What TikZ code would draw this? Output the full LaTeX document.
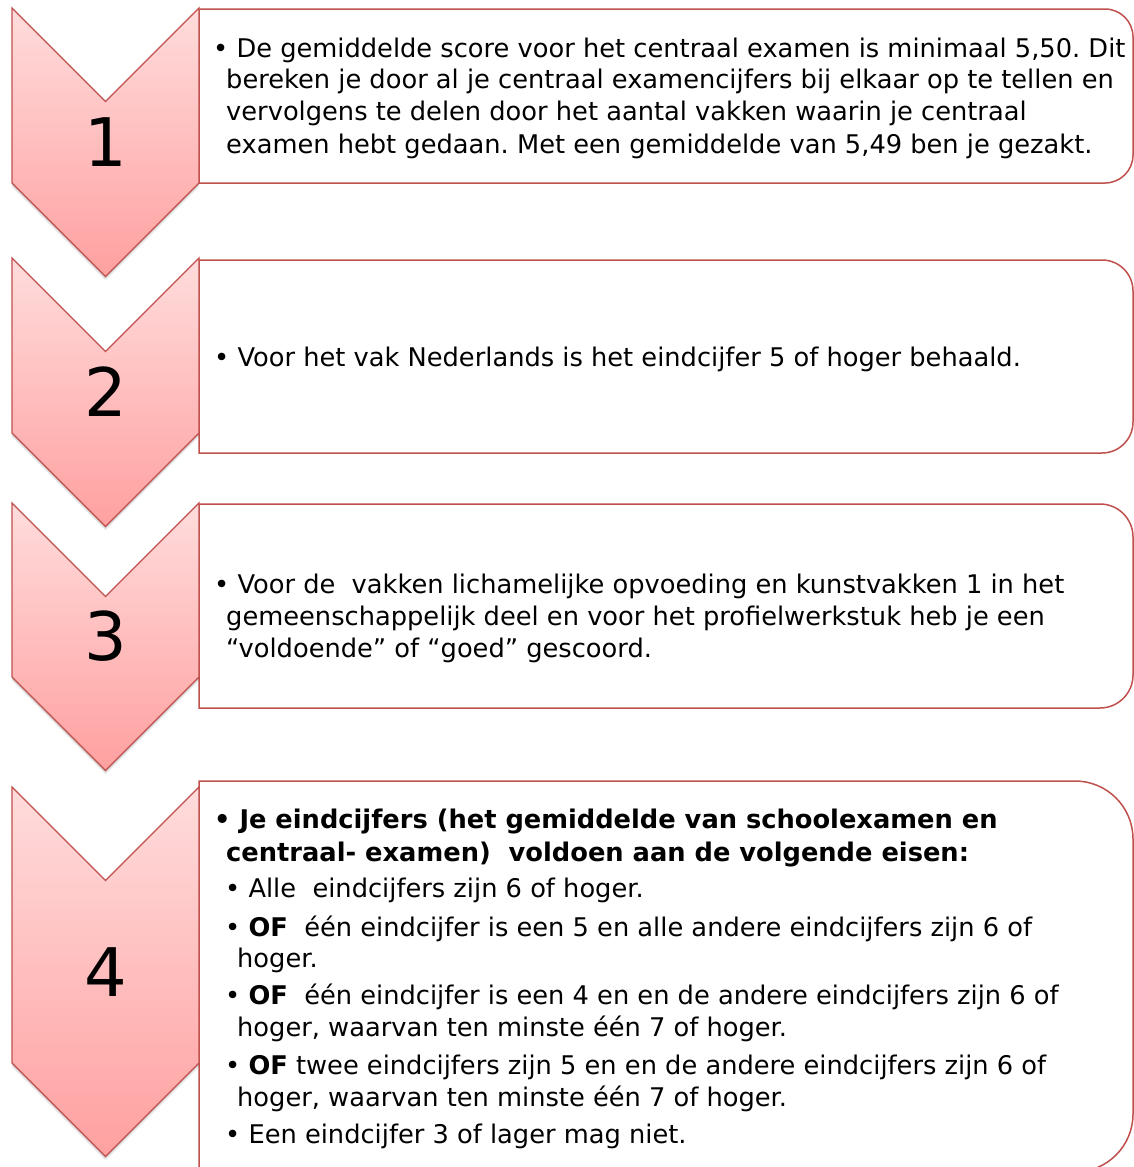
\documentclass[tikz,border=0pt]{standalone}
\usepackage{fontspec}
\setmainfont{DejaVu Sans}
\frenchspacing
\definecolor{edge}{HTML}{C0504D}
\definecolor{chevtop}{HTML}{FFDCDC}
\definecolor{chevbot}{HTML}{FFA0A0}
\tikzset{
  chev/.style={top color=chevtop, bottom color=chevbot, draw=edge, line width=1.3pt, line join=miter},
  chevshadow/.style={fill=black, opacity=0.05},
  txtbox/.style={draw=edge, line width=1.5pt, fill=white},
  numlbl/.style={font=\fontsize{67}{67}\selectfont, anchor=base, inner sep=0pt},
  txtline/.style={font=\fontsize{25.7}{32}\selectfont, anchor=base west, inner sep=0pt},
  boldline/.style={txtline, font=\fontsize{25.7}{32}\selectfont\bfseries},
}
\newcommand\drawtextbox[3]{%
  \draw[txtbox] (199,-#1) -- ({1133-#3},-#1) arc[start angle=90,end angle=0,radius=#3]
    -- (1133,{-#2+#3}) arc[start angle=0,end angle=-90,radius=#3] -- (199,-#2) -- cycle;}
\newcommand\chevpath[2]{(12,-#1) -- (105.5,{-#1-93.5}) -- (199,-#1) -- (199,-#2) -- (105.5,{-#2-93.5}) -- (12,-#2) -- cycle}
\newcommand\drawchevron[2]{%
  \foreach \s in {1,2,3,4}{\fill[chevshadow, yshift=-\s pt] \chevpath{#1}{#2};}
  \shadedraw[chev] \chevpath{#1}{#2};}
\begin{document}
\begin{tikzpicture}[x=1pt,y=1pt]
\useasboundingbox (0,0) rectangle (1134,-1167);
\fill[white] (0,0) rectangle (1134,-1167);

% text boxes
\drawtextbox{9}{183}{28}
\drawtextbox{260}{453}{31}
\drawtextbox{504}{708}{33}
\drawtextbox{781}{1172}{58}

% chevrons
\drawchevron{8}{183}
\drawchevron{258}{433}
\drawchevron{503}{677}
\drawchevron{787}{1063}

% numbers
\node[numlbl] (n1) at (105.5,-166) {1};
\node[numlbl] (n2) at (105.5,-416) {2};
\node[numlbl] (n3) at (105.5,-660) {3};
\node[numlbl] (n4) at (105.5,-996) {4};

% box 1
\node[txtline] (t1a) at (213,-57) {• De gemiddelde score voor het centraal examen is minimaal 5,50. Dit};
\node[txtline] (t1b) at (226,-88) {bereken je door al je centraal examencijfers bij elkaar op te tellen en};
\node[txtline] (t1c) at (226,-120) {vervolgens te delen door het aantal vakken waarin je centraal};
\node[txtline] (t1d) at (226,-153) {examen hebt gedaan. Met een gemiddelde van 5,49 ben je gezakt.};

% box 2
\node[txtline] (t2a) at (214,-366) {• Voor het vak Nederlands is het eindcijfer 5 of hoger behaald.};

% box 3
\node[txtline] (t3a) at (214,-593) {• Voor de\ \ vakken lichamelijke opvoeding en kunstvakken 1 in het};
\node[txtline] (t3b) at (226,-625) {gemeenschappelijk deel en voor het profielwerkstuk heb je een};
\node[txtline] (t3c) at (226,-657) {“voldoende” of “goed” gescoord.};

% box 4
\node[boldline] (t4a) at (214,-828) {• Je eindcijfers (het gemiddelde van schoolexamen en};
\node[boldline] (t4b) at (226,-861) {centraal- examen)\ \ voldoen aan de volgende eisen:};
\node[txtline] (t4c) at (225,-897) {• Alle\ \ eindcijfers zijn 6 of hoger.};
\node[txtline] (t4d) at (225,-936) {• \textbf{OF}\ \ één eindcijfer is een 5 en alle andere eindcijfers zijn 6 of};
\node[txtline] (t4e) at (237,-967) {hoger.};
\node[txtline] (t4f) at (225,-1004) {• \textbf{OF}\ \ één eindcijfer is een 4 en en de andere eindcijfers zijn 6 of};
\node[txtline] (t4g) at (237,-1036) {hoger, waarvan ten minste één 7 of hoger.};
\node[txtline] (t4h) at (225,-1074) {• \textbf{OF} twee eindcijfers zijn 5 en en de andere eindcijfers zijn 6 of};
\node[txtline] (t4i) at (237,-1106) {hoger, waarvan ten minste één 7 of hoger.};
\node[txtline] (t4j) at (225,-1143) {• Een eindcijfer 3 of lager mag niet.};
\end{tikzpicture}
\end{document}
